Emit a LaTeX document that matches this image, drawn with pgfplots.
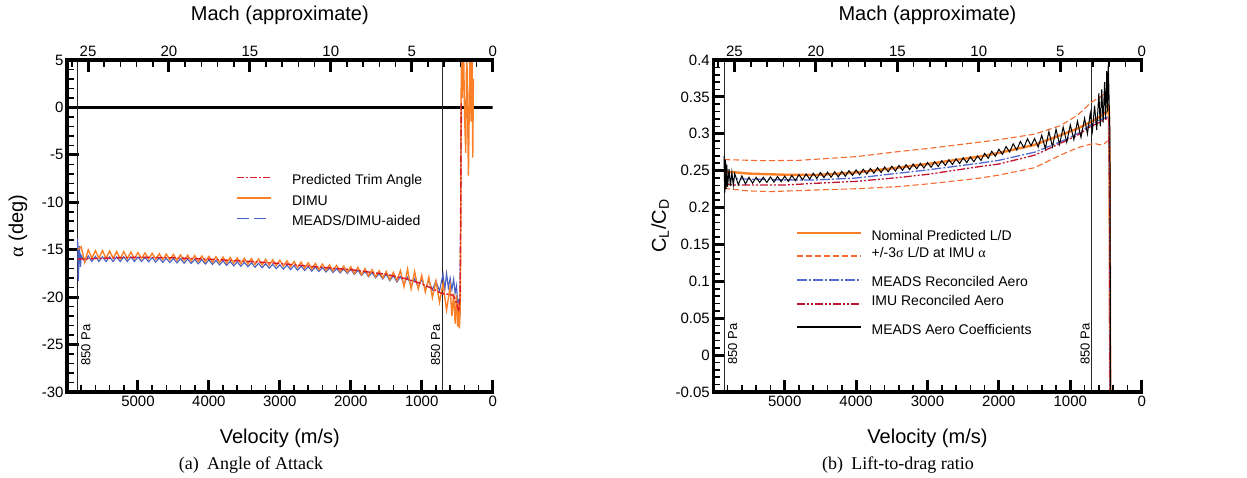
\documentclass[border=0pt]{standalone}
\usepackage{pgfplots}
\pgfplotsset{compat=1.18}
\usepackage{fontspec}
\setmainfont{Liberation Sans}
\newfontfamily\serif{Liberation Serif}
\definecolor{dorange}{RGB}{250,128,40}
\definecolor{dashorange}{RGB}{245,105,45}
\definecolor{dred}{RGB}{215,25,40}
\definecolor{dblue}{RGB}{70,95,195}
\definecolor{rred}{RGB}{195,20,50}
\definecolor{rblue}{RGB}{85,105,210}
\newcommand\ls[1]{\rule[-#1pt]{0pt}{\dimexpr#1pt+11pt\relax}}
\pgfplotsset{
  base/.style={
    scale only axis, x dir=reverse, xmin=0, xmax=6000,
    axis line style={draw=none},
    xtick pos=left, ytick pos=left,
    tick align=inside, major tick length=10pt, minor tick length=6pt,
    xtick={0,1000,2000,3000,4000,5000},
    xticklabels={0,1000,2000,3000,4000,5000},
    minor xtick={0,200,...,6000},
    ticklabel style={font=\fontsize{15}{18}\selectfont},
    xlabel style={at={(axis description cs:0.5,-0.1386)},anchor=center,font=\fontsize{20}{24}\selectfont},
    ylabel style={rotate=0,anchor=center,font=\fontsize{20}{24}\selectfont},
  },
  machaxis/.style={
    scale only axis, x dir=reverse, xmin=0, xmax=26.3, ymin=0, ymax=1,
    axis line style={draw=none},
    xtick pos=right, ytick=\empty,
    tick align=inside, major tick length=10pt, minor tick length=6pt,
    xtick={0,5,10,15,20,25}, xticklabels={0,5,10,15,20,25},
    minor xtick={0,1,...,26},
    ticklabel style={font=\fontsize{15}{18}\selectfont},
    xlabel={Mach (approximate)},
    xlabel style={at={(axis description cs:0.5,1.1355)},anchor=center,font=\fontsize{20}{24}\selectfont},
  },
  tkL/.style={major tick style={line width=3pt,black}, minor tick style={line width=1.6pt,black}, major tick length=12pt, minor tick length=7pt},
}
\begin{document}
\begin{tikzpicture}
\useasboundingbox (0pt,0pt) rectangle (1247pt,478pt);
% ---------------- left panel ----------------
\begin{axis}[base, tkL, name=L, at={(67pt,86pt)}, anchor=south west, width=425.7pt, height=332pt,
  ymin=-30, ymax=5,
  ytick={-30,-25,-20,-15,-10,-5,0,5},
  yticklabels={-30,-25,-20,-15,-10,-5,0,5},
  minor ytick={-30,-29,...,5},
  xlabel={Velocity (m/s)},
  ylabel={{\serif α} (deg)},
  ylabel style={at={(axis description cs:-0.115,0.5)}},
  legend cell align=left,
  legend image code/.code={\draw[#1] (0pt,0.32em) -- (34pt,0.32em);},
  legend style={draw=none, fill=none, at={(0.39,0.6636)}, anchor=north west,
    font=\fontsize{14}{16}\selectfont, row sep=6.5pt,
    nodes={inner sep=0pt, text depth=},
    /tikz/every odd column/.append style={column sep=20pt}},
]
\addlegendimage{dred, line width=1.6pt, dash pattern=on 7pt off 2pt on 2pt off 2pt}
\addlegendentry{\ls{3}Predicted Trim Angle}
\addlegendimage{dorange, line width=1.8pt}
\addlegendentry{\ls{3}DIMU}
\addlegendimage{dblue, line width=1.6pt, dash pattern=on 12pt off 5pt}
\addlegendentry{\ls{3}MEADS/DIMU-aided}

\addplot[black, line width=2.8pt, forget plot] coordinates {(0,0) (6000,0)};
\addplot[black!85, line width=0.9pt, forget plot] coordinates {(5846,-30) (5846,5)};
\addplot[black!85, line width=0.9pt, forget plot] coordinates {(713,-30) (713,5)};

% MEADS/DIMU-aided
\addplot[dblue, line width=1.1pt, forget plot] coordinates {
(5850,-13.8) (5840,-18.3) (5825,-14.6) (5810,-16.8) (5800,-15.6) (5750,-16.3) (5700,-15.65) (5650,-16.25) (5600,-15.7) (5550,-16.25) (5500,-15.75) (5450,-16.25) (5400,-15.75) (5350,-16.25) (5300,-15.75) (5250,-16.25) (5200,-15.75) (5150,-16.25) (5100,-15.75) (5050,-16.25) (5000,-15.78) (4950,-16.24) (4900,-15.81) (4850,-16.27) (4800,-15.84) (4750,-16.3) (4700,-15.87) (4650,-16.33) (4600,-15.9) (4550,-16.36) (4500,-15.93) (4450,-16.39) (4400,-15.96) (4350,-16.42) (4300,-15.99) (4250,-16.45) (4200,-16.02) (4150,-16.48) (4100,-16.05) (4050,-16.51) (4000,-16.08) (3950,-16.55) (3900,-16.13) (3850,-16.6) (3800,-16.18) (3750,-16.65) (3700,-16.23) (3650,-16.7) (3600,-16.28) (3550,-16.75) (3500,-16.33) (3450,-16.8) (3400,-16.38) (3350,-16.85) (3300,-16.43) (3250,-16.9) (3200,-16.48) (3150,-16.95) (3100,-16.53) (3050,-17.0) (3000,-16.58) (2950,-17.05) (2900,-16.63) (2850,-17.1) (2800,-16.68) (2750,-17.15) (2700,-16.73) (2650,-17.2) (2600,-16.78) (2550,-17.25) (2500,-16.83) (2450,-17.3) (2400,-16.88) (2350,-17.35) (2300,-16.93) (2250,-17.4) (2200,-16.98) (2150,-17.45) (2100,-17.03) (2050,-17.5) (2000,-17.05) (1950,-17.61) (1900,-17.17) (1850,-17.73) (1800,-17.29) (1750,-17.85) (1700,-17.41) (1650,-17.97) (1600,-17.53) (1550,-18.09) (1500,-17.6) (1450,-18.27) (1400,-17.74) (1350,-18.41) (1300,-17.83) (1250,-18.59) (1200,-17.9) (1150,-18.78) (1100,-18.05) (1050,-18.93) (1000,-18.15) (950,-19.1) (900,-18.25) (850,-19.25) (800,-18.3) (750,-19.35) (700,-17.6) (675,-19.2) (650,-17.5) (625,-19.0) (600,-18.0) (575,-19.2) (550,-18.1) (530,-19.6) (510,-18.8) (490,-21.0) (475,-20.2) (462,-21.8) (452,-12) (446,-2.5) (442,0.5) (438,-1.5)};

% DIMU
\addplot[dorange, line width=1.4pt, forget plot] coordinates {
(5850,-15.0) (5800,-14.7) (5750,-16.3) (5700,-15.0) (5650,-15.9) (5600,-15.1) (5550,-15.9) (5500,-15.1) (5450,-15.9) (5400,-15.15) (5350,-15.9) (5300,-15.2) (5250,-15.95) (5200,-15.2) (5150,-15.95) (5100,-15.25) (5050,-15.95) (5000,-15.3) (4950,-15.92) (4900,-15.34) (4850,-15.96) (4800,-15.38) (4750,-16.0) (4700,-15.42) (4650,-16.04) (4600,-15.46) (4550,-16.08) (4500,-15.5) (4450,-16.12) (4400,-15.54) (4350,-16.16) (4300,-15.58) (4250,-16.2) (4200,-15.62) (4150,-16.24) (4100,-15.66) (4050,-16.28) (4000,-15.7) (3950,-16.32) (3900,-15.74) (3850,-16.36) (3800,-15.78) (3750,-16.4) (3700,-15.82) (3650,-16.44) (3600,-15.86) (3550,-16.48) (3500,-15.9) (3450,-16.52) (3400,-15.94) (3350,-16.56) (3300,-15.98) (3250,-16.6) (3200,-16.02) (3150,-16.64) (3100,-16.06) (3050,-16.68) (3000,-16.1) (2950,-16.74) (2900,-16.17) (2850,-16.8) (2800,-16.24) (2750,-16.88) (2700,-16.31) (2650,-16.95) (2600,-16.38) (2550,-17.02) (2500,-16.45) (2450,-17.09) (2400,-16.52) (2350,-17.16) (2300,-16.59) (2250,-17.23) (2200,-16.66) (2150,-17.3) (2100,-16.73) (2050,-17.37) (2000,-16.8) (1950,-17.51) (1900,-16.87) (1850,-17.63) (1800,-16.99) (1750,-17.75) (1700,-17.11) (1650,-17.87) (1600,-17.23) (1550,-17.99) (1500,-17.3) (1450,-18.15) (1400,-17.4) (1350,-18.25) (1300,-17.2) (1250,-18.88) (1200,-17.05) (1150,-19.13) (1100,-17.3) (1050,-19.15) (1000,-17.7) (950,-19.45) (900,-17.9) (850,-20.05) (800,-18.3) (750,-20.55) (700,-18.6) (650,-21.35) (600,-18.9) (575,-22.0) (550,-19.6) (530,-22.8) (510,-19.8) (495,-23.1) (480,-20.6) (470,-23.3) (458,-21.5) (450,-14) (442,7) (428,1) (412,7) (396,-1) (380,-4.8) (366,7) (342,-7.2) (319,7) (305,-1.5) (291,7) (281,-5.3) (272,3)};

% Predicted trim
\addplot[dred, line width=1.4pt, dash pattern=on 7pt off 2pt on 2pt off 2pt, forget plot] coordinates {
(5850,-16.0) (5500,-15.9) (5000,-15.8) (4500,-15.85) (4000,-16.0) (3500,-16.2) (3000,-16.45) (2500,-16.8) (2000,-17.1) (1500,-17.6) (1200,-18.1) (1000,-18.6) (850,-19.1) (750,-19.5) (700,-19.65) (620,-19.7) (560,-19.8) (530,-20.2) (500,-20.9) (475,-21.5) (460,-20) (452,-12) (446,-3) (443,0.5)};

\node[rotate=90, font=\fontsize{13}{15}\selectfont] at (axis cs:5734,-25.05) {850 Pa};
\node[rotate=90, font=\fontsize{13}{15}\selectfont] at (axis cs:804,-25.05) {850 Pa};
\end{axis}
\begin{axis}[machaxis, tkL, at={(67pt,86pt)}, anchor=south west, width=425.7pt, height=332pt]
\end{axis}
\draw[black, line width=3.5pt, line cap=rect] (L.north west) -- (L.south west) -- (L.south east);
\draw[black, line width=3.5pt, line cap=rect] (L.north west) -- (L.north east);

% ---------------- right panel ----------------
\begin{axis}[base, tkL, name=R, at={(713.3pt,86pt)}, anchor=south west, width=428.4pt, height=332pt,
  ymin=-0.05, ymax=0.4,
  ytick={-0.05,0,0.05,0.1,0.15,0.2,0.25,0.3,0.35,0.4},
  yticklabels={-0.05,0,0.05,0.1,0.15,0.2,0.25,0.3,0.35,0.4},
  minor ytick={-0.04,-0.03,-0.02,-0.01,0.01,0.02,0.03,0.04,0.06,0.07,0.08,0.09,0.11,0.12,0.13,0.14,0.16,0.17,0.18,0.19,0.21,0.22,0.23,0.24,0.26,0.27,0.28,0.29,0.31,0.32,0.33,0.34,0.36,0.37,0.38,0.39},
  xlabel={Velocity (m/s)},
  ylabel={C\textsubscript{L}/C\textsubscript{D}},
  ylabel style={at={(axis description cs:-0.124,0.5)}},
  legend cell align=left,
  legend image code/.code={\draw[#1] (0pt,0.32em) -- (64pt,0.32em);},
  legend style={draw=none, fill=none, at={(0.186,0.497)}, anchor=north west,
    font=\fontsize{14}{16}\selectfont, row sep=3pt,
    nodes={inner sep=0pt, text depth=},
    /tikz/every odd column/.append style={column sep=9pt}},
]
\addlegendimage{dorange, line width=2.4pt}
\addlegendentry{\ls{3}Nominal Predicted L/D}
\addlegendimage{dashorange, line width=1.3pt, dash pattern=on 6pt off 3pt}
\addlegendentry{\ls{15}+/-3{\serif σ} L/D at IMU {\serif α}}
\addlegendimage{rblue, line width=1.5pt, dash pattern=on 10pt off 2pt on 2pt off 2pt}
\addlegendentry{\ls{5}MEADS Reconciled Aero}
\addlegendimage{rred, line width=1.5pt, dash pattern=on 8pt off 2pt on 2pt off 2pt on 2pt off 2pt}
\addlegendentry{\ls{15}IMU Reconciled Aero}
\addlegendimage{black, line width=1.3pt}
\addlegendentry{\ls{3}MEADS Aero Coefficients}

\addplot[black!85, line width=0.9pt, forget plot] coordinates {(5838,-0.05) (5838,0.4)};
\addplot[black!85, line width=0.9pt, forget plot] coordinates {(709,-0.05) (709,0.4)};

% +/- 3 sigma
\addplot[dashorange, line width=1.1pt, dash pattern=on 6pt off 3pt, forget plot] coordinates {
(5850,0.265) (5300,0.2635) (4800,0.264) (4560,0.2655) (4000,0.269) (3420,0.2757) (3000,0.280) (2280,0.2885) (2000,0.292) (1500,0.2995) (1140,0.311) (900,0.325) (713,0.342) (650,0.346) (600,0.348) (550,0.352) (500,0.358) (470,0.36) (455,0.3) (445,0.05) (440,-0.06)};
\addplot[dashorange, line width=1.1pt, dash pattern=on 6pt off 3pt, forget plot] coordinates {
(5850,0.226) (5500,0.2225) (5200,0.2216) (4560,0.2238) (4000,0.2255) (3420,0.2283) (3000,0.232) (2280,0.2397) (2000,0.244) (1500,0.254) (1140,0.271) (900,0.281) (713,0.286) (650,0.2865) (580,0.285) (530,0.286) (480,0.29) (455,0.29) (447,0.2) (442,-0.06)};
% nominal
\addplot[dorange, line width=2.4pt, forget plot] coordinates {
(5850,0.2485) (5700,0.2478) (5500,0.246) (5000,0.2445) (4560,0.2441) (4000,0.2475) (3420,0.254) (3000,0.259) (2280,0.269) (2000,0.274) (1500,0.285) (1140,0.298) (900,0.307) (713,0.316) (600,0.322) (500,0.329) (460,0.331) (450,0.25) (445,0.05) (440,-0.06)};
% MEADS reconciled
\addplot[rblue, line width=1.3pt, dash pattern=on 10pt off 2pt on 2pt off 2pt, forget plot] coordinates {
(5850,0.240) (5700,0.239) (5000,0.2375) (4560,0.2374) (4000,0.240) (3420,0.2464) (3000,0.251) (2280,0.260) (2000,0.264) (1500,0.275) (1140,0.289) (900,0.300) (713,0.312) (600,0.318) (500,0.322) (460,0.323) (448,0.2) (442,-0.06)};
% IMU reconciled
\addplot[rred, line width=1.3pt, dash pattern=on 8pt off 2pt on 2pt off 2pt on 2pt off 2pt, forget plot] coordinates {
(5850,0.232) (5700,0.2306) (5000,0.2305) (4560,0.2329) (4000,0.2355) (3420,0.2405) (3000,0.245) (2280,0.2554) (2000,0.259) (1500,0.271) (1140,0.287) (900,0.298) (713,0.310) (600,0.315) (500,0.320) (460,0.321) (448,0.2) (442,-0.06)};
% MEADS aero coefficients
\addplot[black, line width=1.0pt, forget plot] coordinates {
(5850,0.270) (5840,0.220) (5830,0.265) (5820,0.225) (5810,0.258) (5800,0.228) (5780,0.252) (5760,0.229) (5740,0.248) (5720,0.230) (5700,0.246) (5650,0.231) (5600,0.243) (5550,0.232) (5500,0.241) (5450,0.233) (5400,0.241) (5350,0.234) (5300,0.241) (5250,0.234) (5200,0.2415) (5150,0.2345) (5100,0.242) (5050,0.235) (5000,0.2425) (4950,0.2355) (4900,0.2435) (4850,0.2365) (4800,0.2445) (4750,0.2375) (4700,0.2455) (4650,0.2385) (4600,0.2465) (4550,0.2395) (4500,0.2475) (4450,0.2405) (4400,0.248) (4350,0.241) (4300,0.2485) (4250,0.2415) (4200,0.249) (4150,0.2425) (4100,0.25) (4050,0.2435) (4000,0.251) (3950,0.2445) (3900,0.252) (3850,0.2455) (3800,0.253) (3750,0.2465) (3700,0.254) (3650,0.2475) (3600,0.255) (3550,0.2485) (3500,0.256) (3450,0.2495) (3400,0.257) (3350,0.2505) (3300,0.258) (3250,0.2515) (3200,0.259) (3150,0.2525) (3100,0.26) (3050,0.2535) (3000,0.261) (2950,0.2545) (2900,0.2622) (2850,0.2557) (2800,0.2635) (2750,0.257) (2700,0.2648) (2650,0.2583) (2600,0.2661) (2550,0.2596) (2500,0.2674) (2450,0.2609) (2400,0.2687) (2350,0.2622) (2300,0.27) (2250,0.2639) (2200,0.2734) (2150,0.2668) (2100,0.2762) (2050,0.2696) (2000,0.279) (1950,0.2721) (1900,0.2827) (1850,0.2753) (1800,0.2864) (1750,0.278) (1700,0.2896) (1650,0.2812) (1600,0.2933) (1550,0.2839) (1500,0.2935) (1450,0.282) (1400,0.298) (1350,0.28) (1300,0.303) (1250,0.2825) (1200,0.306) (1150,0.2855) (1100,0.309) (1050,0.2885) (1000,0.312) (950,0.292) (900,0.317) (850,0.295) (800,0.321) (760,0.300) (720,0.328) (690,0.304) (660,0.338) (630,0.305) (600,0.355) (580,0.310) (560,0.360) (540,0.315) (520,0.370) (505,0.320) (490,0.385) (478,0.330) (468,0.395) (455,0.340) (445,0.300) (440,0.100) (438,0.020) (436,-0.060)};

\node[rotate=90, font=\fontsize{13}{15}\selectfont] at (axis cs:5730,0.0151) {850 Pa};
\node[rotate=90, font=\fontsize{13}{15}\selectfont] at (axis cs:793,0.0151) {850 Pa};
\end{axis}
\begin{axis}[machaxis, tkL, at={(713.3pt,86pt)}, anchor=south west, width=428.4pt, height=332pt]
\end{axis}
\draw[black, line width=3.5pt, line cap=rect] (R.north west) -- (R.south west) -- (R.south east);
\draw[black, line width=3.5pt, line cap=rect] (R.north west) -- (R.north east);

\node[font=\serif\fontsize{18}{21}\selectfont] at (251pt,13pt) {(a)\hspace{0.45em}Angle of Attack};
\node[font=\serif\fontsize{18}{21}\selectfont] at (898pt,13pt) {(b)\hspace{0.45em}Lift-to-drag ratio};
\end{tikzpicture}
\end{document}
